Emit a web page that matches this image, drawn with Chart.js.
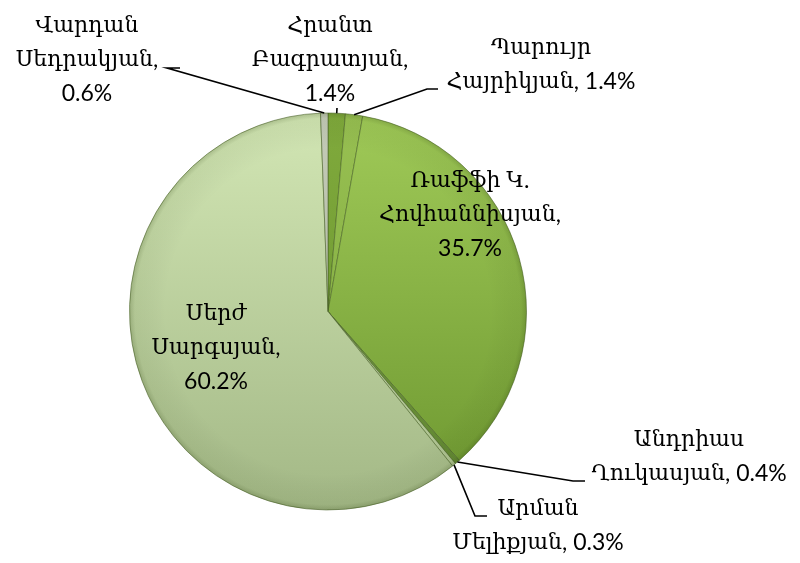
<!DOCTYPE html>
<html>
<head>
<meta charset="utf-8">
<script src="https://cdn.jsdelivr.net/npm/chart.js@4.4.1/dist/chart.umd.min.js"></script>
<style>
  html, body { margin: 0; padding: 0; background: #fff; }
  #wrap { width: 800px; height: 563px; }
</style>
</head>
<body>
<div id="wrap"><canvas id="pieChart" width="800" height="563"></canvas></div>
<script>
// 2013 presidential election results, clockwise from 12 o'clock
const candidates = [
  'Հրանտ Բագրատյան',
  'Պարույր Հայրիկյան',
  'Ռաֆֆի Կ. Հովհաննիսյան',
  'Անդրիաս Ղուկասյան',
  'Արման Մելիքյան',
  'Սերժ Սարգսյան',
  'Վարդան Սեդրակյան'
];
const shares = [1.4, 1.4, 35.7, 0.4, 0.3, 60.2, 0.6];

// top / bottom colour of each slice's gradient
const sliceColors = [
  ['#80aa3c', '#66902e'],
  ['#98c052', '#7aa53a'],
  ['#a0ca58', '#6c962f'],
  ['#7a9f45', '#5f8530'],
  ['#c9dcae', '#aabf8c'],
  ['#d2e6b4', '#a3b886'],
  ['#c4cbb8', '#a8b09a']
];

// label boxes: centre x, first line y, whether % sits on its own line, leader line points
const labelLayout = [
  { x: 330, y: 26, ownLine: true, leader: [[337, 108]] },
  { x: 541, y: 48, ownLine: false, leader: [[438, 89], [427, 89]] },
  { x: 470, y: 181, ownLine: true, leader: null },
  { x: 689, y: 440, ownLine: false, leader: [[585, 481], [573, 481]] },
  { x: 538, y: 509, ownLine: false, leader: [[487, 516], [475, 516]] },
  { x: 216, y: 314, ownLine: true, leader: null },
  { x: 87, y: 26, ownLine: true, leader: [[180, 68], [167, 68]] }
];

const armFont = '22px "DejaVu Serif", serif';
const numFont = '23px Lato, "Open Sans", sans-serif';

function labelLines(i) {
  const words = candidates[i].split(' ');
  const last = words.pop();
  const pct = shares[i].toFixed(1) + '%';
  const lines = [words.join(' '), last + ','];
  if (labelLayout[i].ownLine) lines.push(pct);
  else lines[1] += ' ' + pct;
  return lines;
}

// split a line into Armenian runs and the rest, so each gets its own font
function runs(text) {
  return text.match(/[\u0530-\u058F]+|[^\u0530-\u058F]+/g).map(t => ({
    t, font: /[\u0530-\u058F]/.test(t) ? armFont : numFont
  }));
}

function drawCentered(c, text, cx, cy) {
  const parts = runs(text);
  let w = 0;
  parts.forEach(p => { c.font = p.font; p.w = c.measureText(p.t).width; w += p.w; });
  let x = cx - w / 2;
  parts.forEach(p => { c.font = p.font; c.fillText(p.t, x, cy); x += p.w; });
}

const sliceFill = (ctx) => {
  const area = ctx.chart.chartArea;
  const c = sliceColors[ctx.dataIndex];
  if (!area) return c[0];
  const g = ctx.chart.ctx.createLinearGradient(0, area.top, 0, area.bottom);
  g.addColorStop(0, c[0]);
  g.addColorStop(1, c[1]);
  return g;
};

const bevelAndLabels = {
  id: 'bevelAndLabels',
  afterDatasetsDraw(chart) {
    const c = chart.ctx;
    const arc = chart.getDatasetMeta(0).data[0];
    const r = arc.outerRadius;
    // soft darkening toward the rim
    const g = c.createRadialGradient(arc.x, arc.y, r * 0.82, arc.x, arc.y, r);
    g.addColorStop(0, 'rgba(0,0,0,0)');
    g.addColorStop(0.85, 'rgba(40,60,10,0.06)');
    g.addColorStop(1, 'rgba(40,60,10,0.22)');
    c.save();
    c.beginPath();
    c.arc(arc.x, arc.y, r, 0, Math.PI * 2);
    c.fillStyle = g;
    c.fill();
    c.restore();
  },
  afterDraw(chart) {
    const c = chart.ctx;
    const arcs = chart.getDatasetMeta(0).data;
    c.save();
    // leader lines from slice edge to label
    c.strokeStyle = '#000';
    c.lineWidth = 1.6;
    arcs.forEach((a, i) => {
      const lay = labelLayout[i];
      if (!lay.leader) return;
      const mid = (a.startAngle + a.endAngle) / 2;
      const px = a.x + Math.cos(mid) * a.outerRadius;
      const py = a.y + Math.sin(mid) * a.outerRadius;
      c.beginPath();
      c.moveTo(px, py);
      lay.leader.slice().reverse().forEach(p => c.lineTo(p[0], p[1]));
      c.stroke();
    });
    // label text
    c.fillStyle = '#000';
    c.textAlign = 'left';
    c.textBaseline = 'middle';
    arcs.forEach((a, i) => {
      const lay = labelLayout[i];
      labelLines(i).forEach((t, k) => drawCentered(c, t, lay.x, lay.y + k * 34));
    });
    c.restore();
  }
};

const ctx = document.getElementById('pieChart').getContext('2d');
const pieChart = new Chart(ctx, {
  type: 'pie',
  data: {
    labels: candidates,
    datasets: [{
      data: shares,
      backgroundColor: sliceFill,
      borderColor: 'rgba(70,95,35,0.55)',
      borderWidth: 1
    }]
  },
  options: {
    responsive: false,
    animation: false,
    layout: { padding: { left: 129, right: 273, top: 112, bottom: 52 } },
    plugins: {
      legend: { display: false },
      tooltip: { enabled: false }
    }
  },
  plugins: [bevelAndLabels]
});
</script>
</body>
</html>
